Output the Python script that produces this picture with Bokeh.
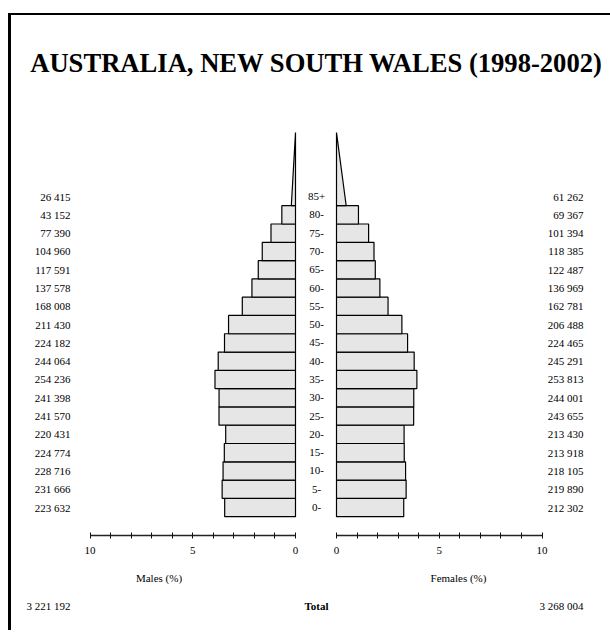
from bokeh.plotting import figure
from bokeh.models import Range1d, FixedTicker, LinearAxis, ColumnDataSource
from bokeh.layouts import column, row
from bokeh.core.properties import value
from bokeh.embed import file_html
from bokeh.resources import INLINE

# ---------------- data ----------------
title_text = "AUSTRALIA, NEW SOUTH WALES (1998-2002)"
age_groups = ["0-", "5-", "10-", "15-", "20-", "25-", "30-", "35-", "40-",
              "45-", "50-", "55-", "60-", "65-", "70-", "75-", "80-", "85+"]
males = [223632, 231666, 228716, 224774, 220431, 241570, 241398, 254236, 244064,
         224182, 211430, 168008, 137578, 117591, 104960, 77390, 43152, 26415]
females = [212302, 219890, 218105, 213918, 213430, 243655, 244001, 253813, 245291,
           224465, 206488, 162781, 136969, 122487, 118385, 101394, 69367, 61262]
total_males = 3221192
total_females = 3268004
axis_ticks = [0, 5, 10]
axis_minor = [1, 2, 3, 4, 6, 7, 8, 9]

FONT = "Liberation Serif"
FILL = "#e6e6e6"


def fmt(n):
    return f"{n:,}".replace(",", " ")


grand = total_males + total_females
n = len(age_groups)
rows = list(range(n))
m_pct = [v / grand * 100 for v in males]
f_pct = [v / grand * 100 for v in females]

# ---------------- layout geometry ----------------
PX = 20.55      # pixels per percent
ROW = 18.29     # pixels per age row
OX, OY = 11, 15                 # content origin on the page
SPLIT = 306                     # page x where male / female figures meet
W_M, W_F = SPLIT - OX, 610 - SPLIT
H_TITLE, H_MAIN, H_BOT = 105, 472, 38
BELOW = 57
M_ZERO = 295 - OX               # male zero line, x inside male figure
F_ZERO = 336 - SPLIT            # female zero line, x inside female figure
Y0 = 507 - (OY + H_TITLE)       # centre of row "0-" from top of main figures
FRAME_H = H_MAIN - BELOW

y_rng = Range1d(-(FRAME_H - Y0) / ROW, Y0 / ROW)


def base_fig(w, h, xr, yr, below=0):
    p = figure(width=w, height=h, x_range=xr, y_range=yr, output_backend="svg",
               toolbar_location=None, x_axis_type=None, y_axis_type=None,
               min_border_left=0, min_border_right=0, min_border_top=0,
               min_border_bottom=below)
    p.outline_line_color = None
    p.background_fill_color = "white"
    p.border_fill_color = "white"
    return p


def style_axis(ax, label):
    ax.bounds = (0, 10)
    ax.ticker = FixedTicker(ticks=axis_ticks, minor_ticks=axis_minor)
    ax.axis_line_color = "#222222"
    ax.axis_line_width = 1.4
    ax.major_tick_line_color = "#111111"
    ax.minor_tick_line_color = "#111111"
    ax.major_tick_in = 3
    ax.major_tick_out = 3
    ax.minor_tick_in = 3
    ax.minor_tick_out = 3
    ax.major_label_text_font = FONT
    ax.major_label_text_font_size = "11px"
    ax.major_label_text_color = "black"
    ax.major_label_standoff = 8
    ax.axis_label = label
    ax.axis_label_text_font = FONT
    ax.axis_label_text_font_size = "11px"
    ax.axis_label_text_font_style = "normal"
    ax.axis_label_text_color = "black"
    ax.axis_label_standoff = 15


def txt(p, x, y, t, align, size="11px", style="normal"):
    src = ColumnDataSource(dict(x=x, y=y, t=t))
    p.text("x", "y", text="t", source=src, text_align=align, text_baseline="middle",
           text_font=value(FONT), text_font_size=value(size),
           text_font_style=style, text_color="black")


# ---------------- title ----------------
pt = base_fig(W_M + W_F, H_TITLE, Range1d(0, W_M + W_F), Range1d(H_TITLE, 0))
txt(pt, [316 - OX], [62 - OY], [title_text], "center", "26.6px", "bold")

# ---------------- males ----------------
pm = base_fig(W_M, H_MAIN, Range1d(M_ZERO / PX, -(W_M - M_ZERO) / PX), y_rng, BELOW)
reg = rows[:-1]
pm.quad(left=[0] * len(reg), right=m_pct[:-1], bottom=[r - 0.5 for r in reg],
        top=[r + 0.5 for r in reg], fill_color=FILL, line_color="black", line_width=1.2)
top_r = rows[-1]
pm.patch([0, m_pct[-1] / 2, 0], [top_r - 0.5, top_r - 0.5, top_r + 3.5],
         fill_color=FILL, line_color="black", line_width=1.2)
txt(pm, [(M_ZERO - (70 - OX)) / PX] * n, rows, [fmt(v) for v in males], "right")
ax_m = LinearAxis()
style_axis(ax_m, "Males (%)")
pm.add_layout(ax_m, "below")

# ---------------- females ----------------
pf = base_fig(W_F, H_MAIN, Range1d(-F_ZERO / PX, (W_F - F_ZERO) / PX), y_rng, BELOW)
pf.quad(left=[0] * len(reg), right=f_pct[:-1], bottom=[r - 0.5 for r in reg],
        top=[r + 0.5 for r in reg], fill_color=FILL, line_color="black", line_width=1.2)
pf.patch([0, f_pct[-1] / 2, 0], [top_r - 0.5, top_r - 0.5, top_r + 3.5],
         fill_color=FILL, line_color="black", line_width=1.2)
txt(pf, [(316 - 336) / PX] * n, rows, age_groups, "center")
txt(pf, [(583 - 336) / PX] * n, rows, [fmt(v) for v in females], "right")
ax_f = LinearAxis()
style_axis(ax_f, "Females (%)")
pf.add_layout(ax_f, "below")

# ---------------- totals ----------------
pb = base_fig(W_M + W_F, H_BOT, Range1d(0, W_M + W_F), Range1d(H_BOT, 0))
ty = 605 - (OY + H_TITLE + H_MAIN)
txt(pb, [70 - OX, 583 - OX], [ty, ty], [fmt(total_males), fmt(total_females)], "right")
txt(pb, [316 - OX], [ty], ["Total"], "center", "11px", "bold")

layout = column(pt, row(pm, pf), pb,
                styles={"border-left": "3px solid black", "border-top": "2px solid black",
                        "margin-left": "8px", "margin-top": "13px"})

open("out.html", "w").write(file_html(layout, INLINE))
